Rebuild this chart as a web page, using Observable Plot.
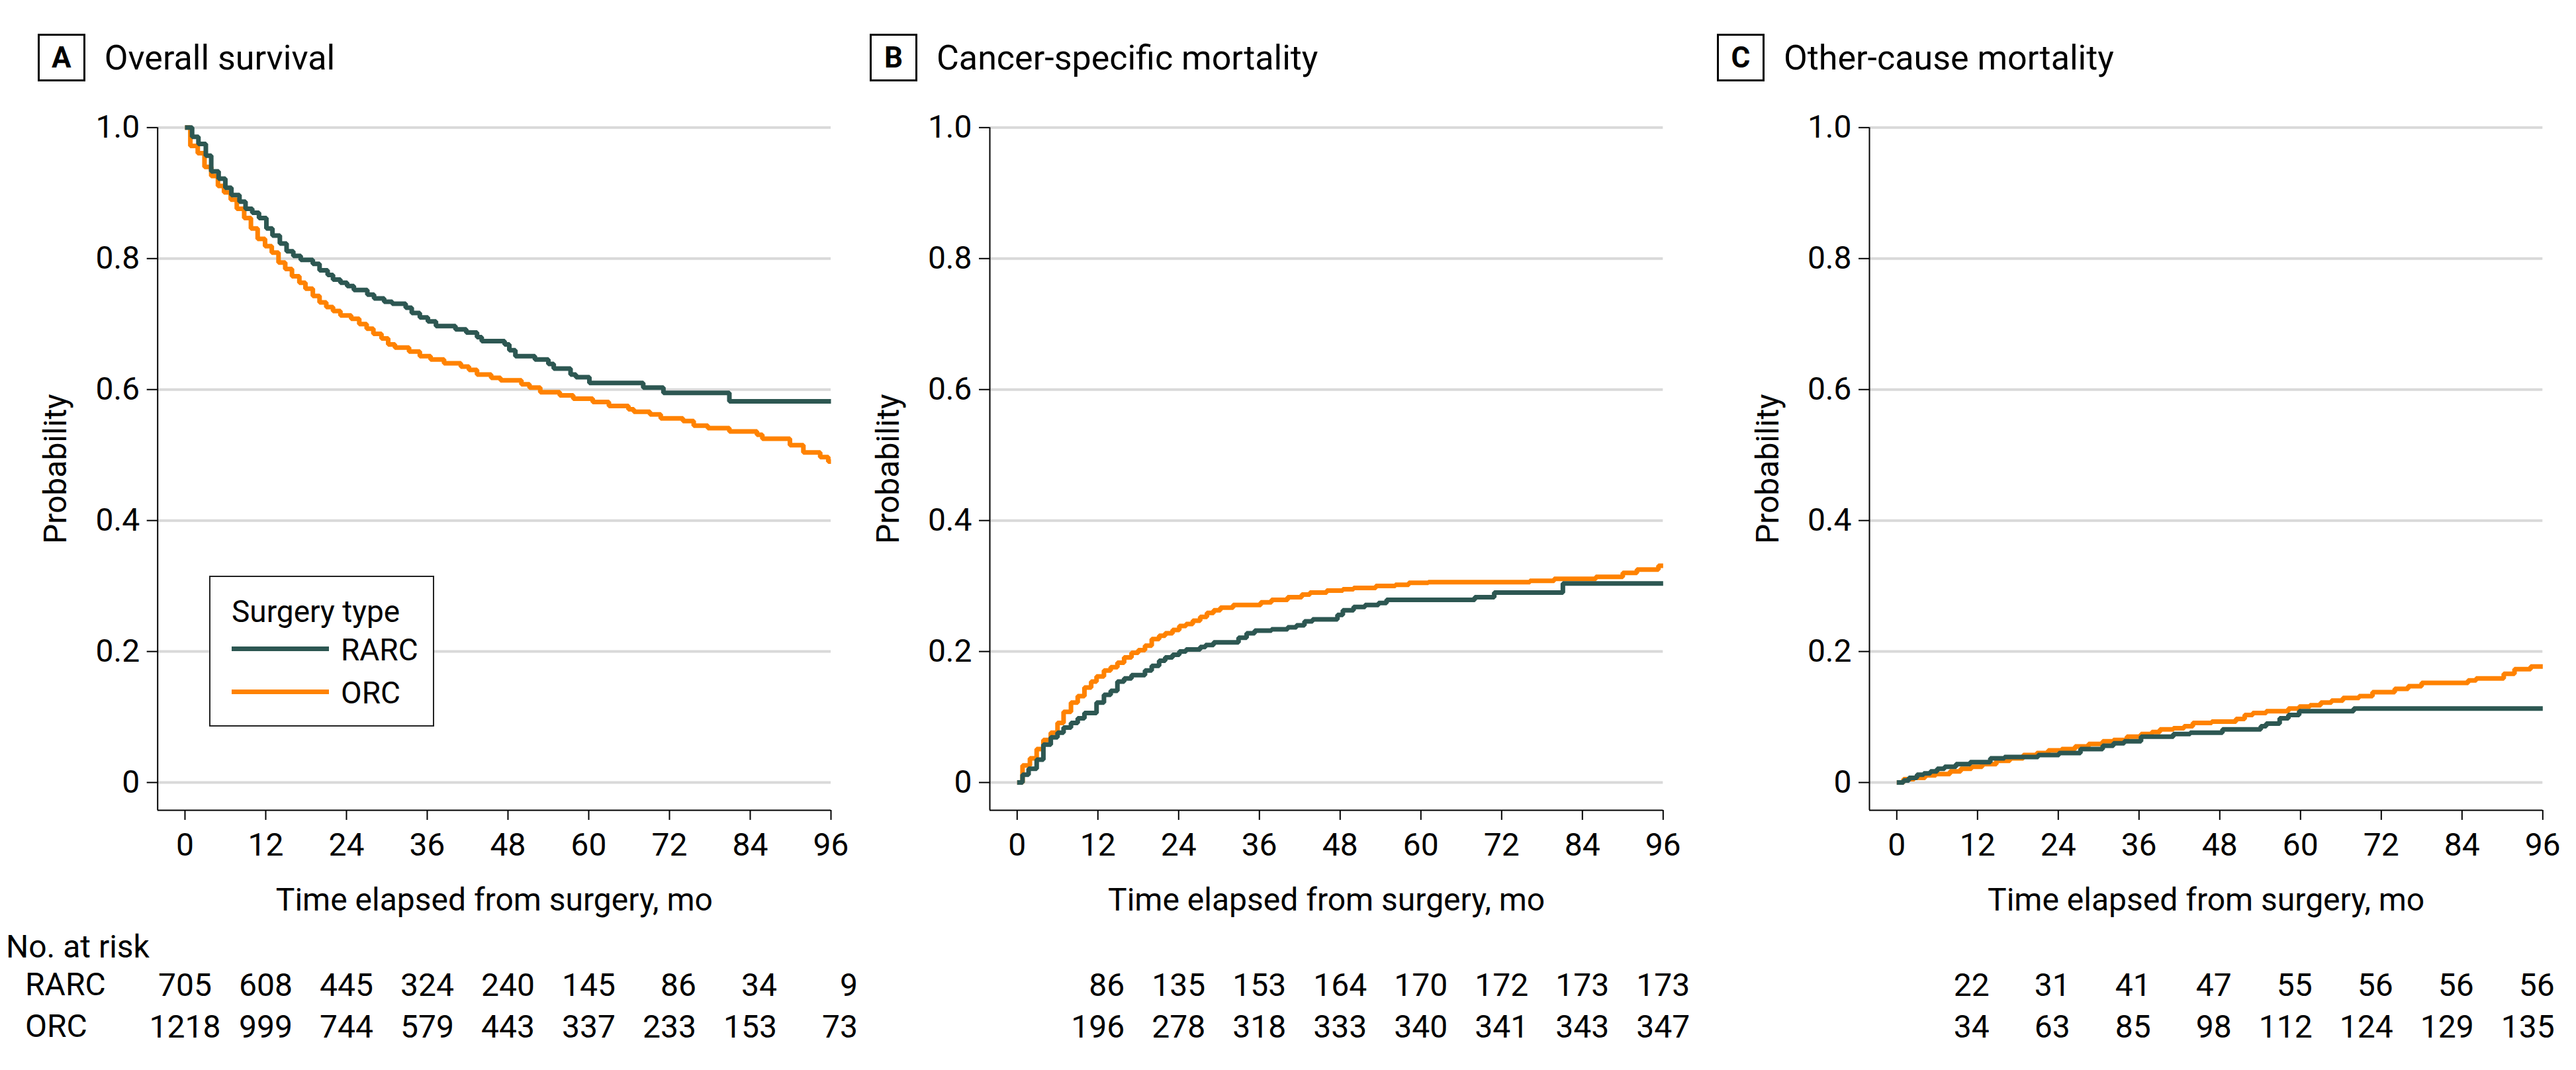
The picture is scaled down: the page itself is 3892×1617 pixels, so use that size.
<!DOCTYPE html>
<html>
<head>
<meta charset="utf-8">
<script src="https://cdn.jsdelivr.net/npm/d3@7"></script>
<script src="https://cdn.jsdelivr.net/npm/@observablehq/plot@0.6"></script>
<style>
  html, body { margin: 0; padding: 0; background: #fff; }
  #root { position: relative; width: 3892px; height: 1617px; overflow: hidden; background: #fff;
          font-family: Roboto, "Liberation Sans", Arial, sans-serif; color: #000; }
  .abs { position: absolute; white-space: nowrap; line-height: 1; }
  .pbox { position: absolute; box-sizing: border-box; width: 72px; height: 72px; border: 3px solid #000;
          display: flex; align-items: center; justify-content: center; font-weight: bold; font-size: 44px; }
  .ptitle { position: absolute; font-size: 52px; line-height: 1; white-space: nowrap; }
  .legend { position: absolute; box-sizing: border-box; border: 2px solid #222; background: #fff; }
  .legend .sw { position: absolute; height: 7px; }
  .legend .tx { position: absolute; font-size: 46px; line-height: 1; white-space: nowrap; }
  .plotwrap { position: absolute; }
  .plotwrap svg { overflow: visible; }
</style>
</head>
<body>
<div id="root"></div>
<script>
// ---------------- data ----------------
const groups = ["RARC", "ORC"];
const groupColors = ["#2d5752", "#ff8200"];
const panelLetters = ["A", "B", "C"];
const panelTitles = ["Overall survival", "Cancer-specific mortality", "Other-cause mortality"];
const xTicks = [0, 12, 24, 36, 48, 60, 72, 84, 96];
const yTicks = [0, 0.2, 0.4, 0.6, 0.8, 1.0];
const xDomain = [-4.06, 96];
const yDomain = [-0.0424, 1];
const xLabel = "Time elapsed from surgery, mo";
const yLabel = "Probability";
const legendTitle = "Surgery type";
const riskHeader = "No. at risk";

// Kaplan-Meier / cumulative incidence steps: [month, probability]
const osRARC = [[0,1.0],[1.06,0.986],[2.0,0.975],[3.1,0.957],[3.9,0.933],[5.0,0.922],[6.0,0.908],[6.9,0.897],[8.1,0.887],[9.0,0.876],[10.0,0.870],[11.0,0.862],[12.1,0.846],[13.0,0.835],[14.1,0.823],[15.1,0.811],[16.1,0.804],[17.2,0.798],[19.0,0.792],[20.0,0.782],[21.2,0.775],[22.0,0.768],[23.1,0.763],[24.1,0.758],[25.1,0.752],[27.1,0.745],[28.1,0.739],[29.6,0.734],[30.8,0.731],[32.8,0.725],[33.7,0.717],[34.9,0.710],[36.1,0.704],[37.3,0.697],[40.2,0.692],[41.8,0.687],[43.4,0.680],[44.1,0.674],[47.5,0.669],[48.2,0.660],[49.1,0.651],[52.0,0.646],[54.0,0.639],[54.8,0.632],[57.3,0.623],[58.1,0.619],[60.1,0.610],[68.1,0.603],[71.1,0.595],[80.9,0.582],[96,0.582]];
const osORC = [[0,1.0],[0.8,0.972],[1.9,0.961],[2.9,0.940],[3.9,0.926],[4.9,0.911],[5.8,0.901],[6.8,0.890],[7.7,0.876],[8.8,0.862],[9.8,0.846],[10.8,0.830],[11.9,0.819],[12.9,0.809],[13.9,0.794],[14.9,0.784],[15.9,0.773],[17.0,0.763],[17.9,0.754],[19.0,0.743],[20.0,0.733],[21.0,0.726],[22.0,0.720],[23.1,0.713],[24.7,0.708],[25.9,0.700],[27.0,0.693],[28.0,0.685],[29.2,0.678],[30.2,0.669],[31.2,0.664],[33.3,0.658],[34.9,0.651],[36.5,0.646],[38.5,0.640],[41.0,0.635],[42.2,0.630],[43.4,0.623],[45.5,0.618],[46.9,0.614],[50.0,0.608],[51.2,0.603],[52.8,0.596],[55.7,0.591],[57.7,0.586],[60.6,0.581],[63.0,0.575],[65.9,0.570],[66.7,0.566],[69.1,0.562],[70.7,0.556],[74.0,0.552],[75.6,0.545],[77.7,0.541],[80.9,0.536],[85.0,0.531],[85.8,0.525],[89.9,0.515],[91.9,0.504],[94.4,0.497],[95.6,0.490],[96,0.490]];
const csmRARC = [[0,0],[0.8,0.012],[1.7,0.021],[2.9,0.035],[3.9,0.058],[5.0,0.069],[6.0,0.076],[6.9,0.084],[8.0,0.091],[9.0,0.098],[10.0,0.106],[11.8,0.122],[12.9,0.134],[13.9,0.140],[14.9,0.154],[15.9,0.159],[17.0,0.164],[19.0,0.171],[20.0,0.178],[21.1,0.186],[22.0,0.191],[23.1,0.195],[24.1,0.200],[25.1,0.203],[27.2,0.207],[28.0,0.210],[29.2,0.214],[32.9,0.221],[34.1,0.228],[35.3,0.232],[37.8,0.234],[40.2,0.237],[41.5,0.240],[42.7,0.246],[43.9,0.249],[47.6,0.256],[48.4,0.263],[50.0,0.268],[51.7,0.271],[53.7,0.274],[54.9,0.279],[68.0,0.283],[70.9,0.290],[81.1,0.304],[96,0.304]];
const csmORC = [[0,0],[0.8,0.026],[1.9,0.037],[2.9,0.051],[3.9,0.065],[5.0,0.076],[6.0,0.091],[6.9,0.108],[8.0,0.122],[9.0,0.132],[10.0,0.145],[11.0,0.154],[11.8,0.162],[12.9,0.171],[13.9,0.176],[14.9,0.183],[15.9,0.191],[17.0,0.198],[18.0,0.202],[19.0,0.209],[20.0,0.219],[21.1,0.224],[22.0,0.228],[23.1,0.233],[24.1,0.239],[25.1,0.242],[26.1,0.247],[27.2,0.253],[28.2,0.259],[29.2,0.263],[30.2,0.267],[32.1,0.271],[36.2,0.275],[37.8,0.279],[40.2,0.283],[42.3,0.287],[43.5,0.290],[46.0,0.293],[48.4,0.295],[50.0,0.297],[53.3,0.300],[56.2,0.302],[58.2,0.305],[61.1,0.306],[76.2,0.308],[79.8,0.311],[86.0,0.314],[90.0,0.320],[92.1,0.325],[95.3,0.331],[96,0.331]];
const ocmRARC = [[0,0],[1.0,0.003],[1.8,0.007],[3.0,0.012],[4.0,0.014],[5.0,0.017],[6.0,0.021],[7.1,0.024],[8.8,0.028],[10.9,0.031],[13.9,0.037],[16.0,0.039],[21.0,0.042],[24.1,0.045],[27.3,0.051],[30.6,0.056],[32.2,0.060],[33.8,0.063],[36.3,0.070],[41.1,0.074],[43.6,0.076],[48.4,0.081],[54.1,0.086],[54.9,0.090],[56.9,0.098],[58.2,0.103],[59.8,0.109],[67.9,0.113],[96,0.113]];
const ocmORC = [[0,0],[1.0,0.005],[2.6,0.007],[4.2,0.011],[5.8,0.013],[7.9,0.017],[9.5,0.021],[11.1,0.024],[12.7,0.028],[14.8,0.033],[16.8,0.037],[18.8,0.042],[20.8,0.045],[22.5,0.049],[24.5,0.051],[26.5,0.055],[28.5,0.059],[30.6,0.063],[32.2,0.065],[34.2,0.070],[36.3,0.074],[37.9,0.077],[39.1,0.081],[41.1,0.083],[42.7,0.086],[44.0,0.091],[46.8,0.093],[50.4,0.097],[51.7,0.103],[52.9,0.106],[54.9,0.109],[58.2,0.113],[59.8,0.116],[61.4,0.118],[63.0,0.122],[64.6,0.125],[66.3,0.129],[68.7,0.132],[70.7,0.138],[74.0,0.143],[76.0,0.147],[78.0,0.152],[84.9,0.156],[86.1,0.159],[90.2,0.166],[91.8,0.173],[94.2,0.177],[96,0.177]];

// Number at risk
const riskTimesA = [0, 12, 24, 36, 48, 60, 72, 84, 96];
const riskRARC_A = [705, 608, 445, 324, 240, 145, 86, 34, 9];
const riskORC_A  = [1218, 999, 744, 579, 443, 337, 233, 153, 73];
const riskTimesBC = [12, 24, 36, 48, 60, 72, 84, 96];
const riskRARC_B = [86, 135, 153, 164, 170, 172, 173, 173];
const riskORC_B  = [196, 278, 318, 333, 340, 341, 343, 347];
const riskRARC_C = [22, 31, 41, 47, 55, 56, 56, 56];
const riskORC_C  = [34, 63, 85, 98, 112, 124, 129, 135];

// ---------------- layout ----------------
const FONT = 'Roboto, "Liberation Sans", Arial, sans-serif';
const FS = 48;
const root = document.getElementById("root");
const panels = [
  {left: 0,    marginLeft: 237.7, width: 1305, boxOff: 181, series: [osORC, osRARC],   riskT: riskTimesA,  rarc: riskRARC_A, orc: riskORC_A, riskAlign: "field"},
  {left: 1305, marginLeft: 190,   width: 1257, boxOff: 181, series: [csmORC, csmRARC], riskT: riskTimesBC, rarc: riskRARC_B, orc: riskORC_B, riskAlign: "field"},
  {left: 2562, marginLeft: 262,   width: 1329, boxOff: 230, series: [ocmORC, ocmRARC], riskT: riskTimesBC, rarc: riskRARC_C, orc: riskORC_C, riskAlign: "right"}
];
const chartH = 1400, marginTop = 192.3, frameBottom = 1224;

function el(tag, cls, text, style) {
  const e = document.createElement(tag);
  if (cls) e.className = cls;
  if (text != null) e.textContent = text;
  Object.assign(e.style, style || {});
  root.appendChild(e);
  return e;
}

const tickFmt = d => d === 0 ? "0" : d.toFixed(1);

panels.forEach((p, i) => {
  const axisX = p.left + p.marginLeft;
  const boxLeft = axisX - p.boxOff;
  el("div", "pbox", panelLetters[i], {left: boxLeft + "px", top: "51px"});
  el("div", "ptitle", panelTitles[i], {left: (boxLeft + 101) + "px", top: "62px"});

  const data = [];
  p.series.forEach((s, k) => {
    const g = k === 0 ? "ORC" : "RARC";
    s.forEach(([t, v]) => data.push({t, p: v, g}));
  });

  const mRight = p.width - p.marginLeft - 1017.3;
  const chart = Plot.plot({
    width: p.width, height: chartH,
    marginLeft: p.marginLeft, marginRight: mRight,
    marginTop, marginBottom: chartH - frameBottom,
    style: {fontFamily: FONT, fontSize: FS + "px", background: "transparent", color: "#000", overflow: "visible"},
    x: {domain: xDomain},
    y: {domain: yDomain},
    color: {domain: groups, range: groupColors},
    marks: [
      Plot.gridY(yTicks, {stroke: "#d9d9d9", strokeWidth: 4, strokeOpacity: 1}),
      Plot.ruleX([xDomain[0]], {y1: yDomain[0], y2: yDomain[1], stroke: "#000", strokeWidth: 2}),
      Plot.ruleY([yDomain[0]], {x1: xDomain[0], x2: xDomain[1], stroke: "#000", strokeWidth: 2}),
      Plot.axisY(yTicks, {tickSize: 16, tickPadding: 11, strokeWidth: 2, tickFormat: tickFmt,
        label: yLabel, labelAnchor: "center", labelOffset: 172, labelArrow: "none"}),
      Plot.axisX(xTicks, {tickSize: 15, tickPadding: 19, strokeWidth: 2, tickFormat: d => String(d),
        label: xLabel, labelAnchor: "center", labelOffset: 151, labelArrow: "none"}),
      Plot.line(data, {x: "t", y: "p", z: "g", stroke: "g", curve: "step-after", strokeWidth: 7,
        strokeLinejoin: "miter", strokeLinecap: "butt"})
    ]
  });
  const w = el("div", "plotwrap", null, {left: p.left + "px", top: "0px"});
  w.appendChild(chart);

  // number at risk table
  const rows = [];
  p.riskT.forEach((t, j) => {
    rows.push({t, g: "RARC", n: p.rarc[j]});
    rows.push({t, g: "ORC", n: p.orc[j]});
  });
  let riskMarks;
  if (p.riskAlign === "field") {
    // 3-character fields centred on the tick
    const wide = rows.filter(d => String(d.n).length >= 3);
    const narrow = rows.filter(d => String(d.n).length < 3);
    riskMarks = [
      Plot.text(wide, {x: "t", y: "g", text: d => String(d.n), textAnchor: "middle", fill: "#000"}),
      Plot.text(narrow, {x: "t", y: "g", text: d => String(d.n), textAnchor: "end", dx: 40.5, fill: "#000"})
    ];
  } else {
    riskMarks = [
      Plot.text(rows, {x: "t", y: "g", text: d => String(d.n), textAnchor: "end", dx: 18, fill: "#000"})
    ];
  }
  const risk = Plot.plot({
    width: p.width, height: 217,
    marginLeft: p.marginLeft, marginRight: mRight, marginTop: 0, marginBottom: 0,
    style: {fontFamily: FONT, fontSize: FS + "px", background: "transparent", color: "#000", overflow: "visible"},
    x: {domain: xDomain, axis: null},
    y: {type: "point", domain: groups, range: [88.6, 151.6], padding: 0, axis: null},
    marks: riskMarks
  });
  const w2 = el("div", "plotwrap", null, {left: p.left + "px", top: chartH + "px"});
  w2.appendChild(risk);
});

// risk table headers
el("div", "abs", riskHeader, {left: "9px", top: "1407px", fontSize: FS + "px"});
el("div", "abs", groups[0], {left: "38px", top: "1464px", fontSize: FS + "px"});
el("div", "abs", groups[1], {left: "38px", top: "1527px", fontSize: FS + "px"});

// legend (panel A)
const lg = el("div", "legend", null, {left: "316px", top: "870px", width: "340px", height: "228px"});
function lgChild(cls, text, style) {
  const e = document.createElement("div");
  e.className = cls; if (text != null) e.textContent = text;
  Object.assign(e.style, style); lg.appendChild(e); return e;
}
lgChild("tx", legendTitle, {left: "32px", top: "29px"});
groups.forEach((g, k) => {
  const yLine = [108, 173][k];
  lgChild("sw", null, {left: "32px", width: "147px", top: (yLine - 3.5) + "px", background: groupColors[k]});
  lgChild("tx", g, {left: "197px", top: (yLine - 21) + "px"});
});
</script>
</body>
</html>
